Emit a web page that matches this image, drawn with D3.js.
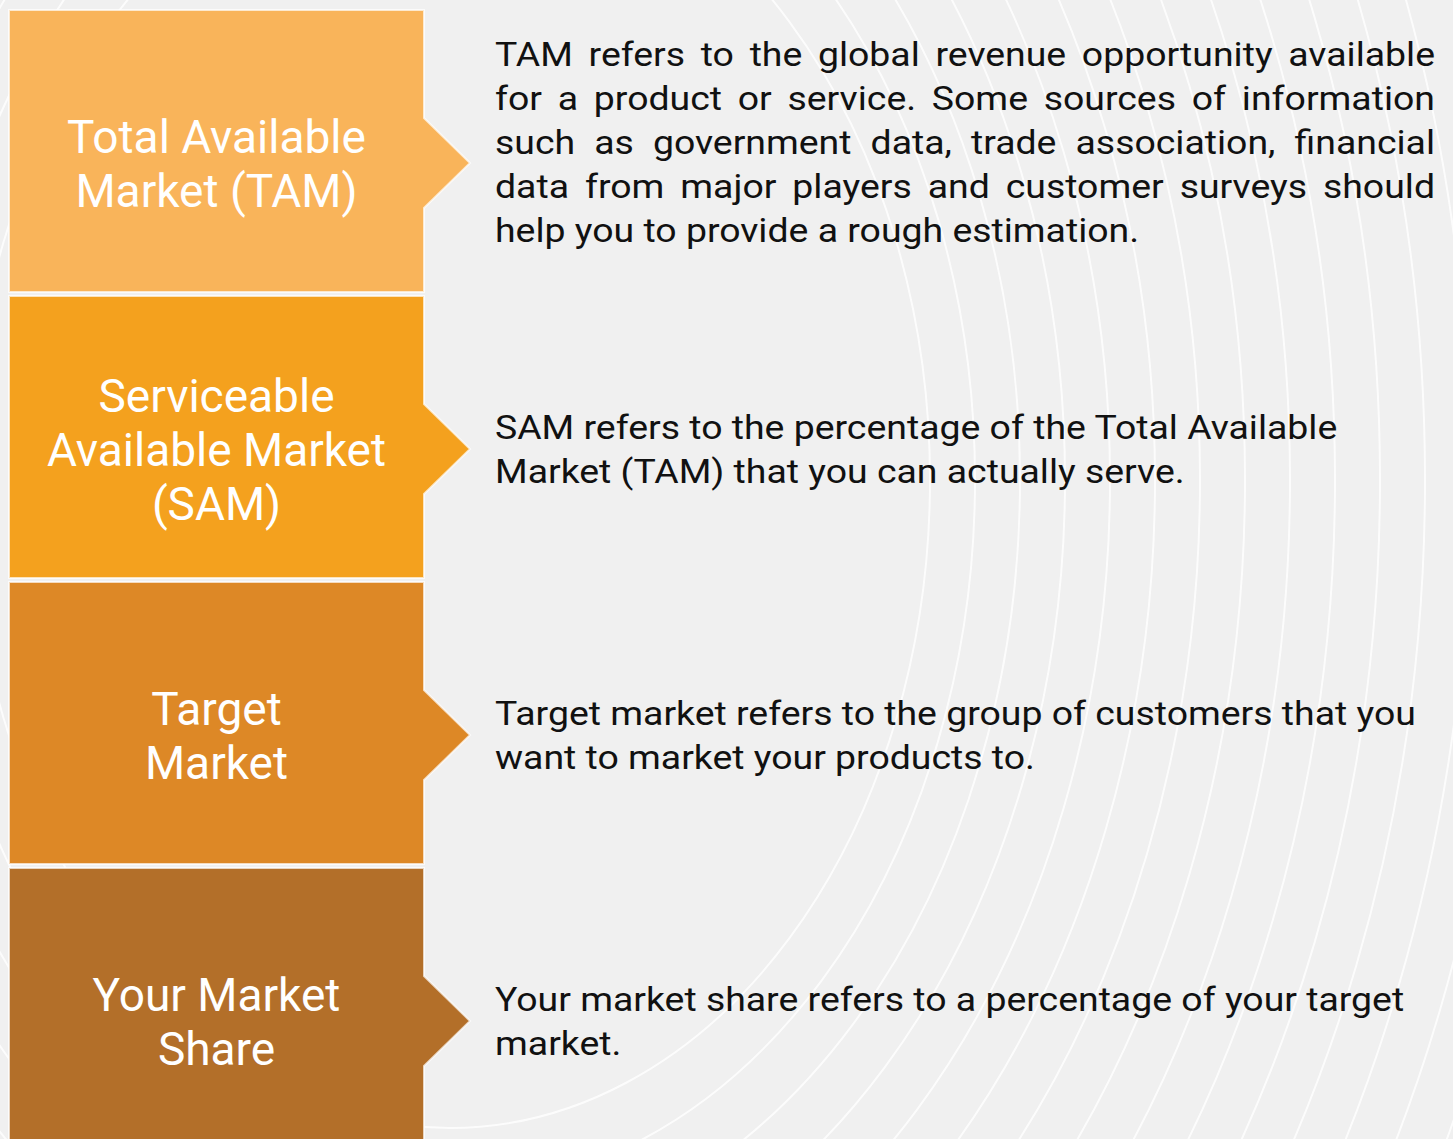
<!DOCTYPE html>
<html>
<head>
<meta charset="utf-8">
<script src="https://cdn.jsdelivr.net/npm/d3@7"></script>
<style>
  body { margin: 0; background: #f0f0f0; }
  text { font-family: Roboto, "Noto Sans", sans-serif; }
</style>
</head>
<body>
<div class="chart"></div>
<script>
// Set up SVG area
var svgWidth = 1453;
var svgHeight = 1139;

// Data
var stages = ["TAM", "SAM", "Target", "Share"];
var stageLabels = [
  ["Total Available", "Market (TAM)"],
  ["Serviceable", "Available Market", "(SAM)"],
  ["Target", "Market"],
  ["Your Market", "Share"]
];
var stageColors = ["#f9b45a", "#f4a11e", "#dd8826", "#b36f29"];
var descriptions = [
  ["TAM refers to the global revenue opportunity available",
   "for a product or service. Some sources of information",
   "such as government data, trade association, financial",
   "data from major players and customer surveys should",
   "help you to provide a rough estimation."],
  ["SAM refers to the percentage of the Total Available",
   "Market (TAM) that you can actually serve."],
  ["Target market refers to the group of customers that you",
   "want to market your products to."],
  ["Your market share refers to a percentage of your target",
   "market."]
];
var justified = [true, false, false, false];

var margin = {top: 10, left: 9};
var boxWidth = 415;
var tabW = 46, tabH = 45;
var textX = 495, textRight = 1435;
var stretch = 1.1; // description type is set a little wide

var svg = d3.select(".chart")
  .append("svg")
  .attr("width", svgWidth)
  .attr("height", svgHeight)
  .style("display", "block");

svg.append("rect")
  .attr("width", svgWidth)
  .attr("height", svgHeight)
  .attr("fill", "#f0f0f0");

// faint background swirl lines
var deco = svg.append("g")
  .attr("fill", "none")
  .attr("stroke", "#ffffff")
  .attr("stroke-width", 2)
  .attr("opacity", 0.8);
d3.range(480, 1160, 45).forEach(function(rx) {
  deco.append("ellipse")
    .attr("cx", 450)
    .attr("cy", 480)
    .attr("rx", rx)
    .attr("ry", rx * 1.35);
});

// y scale for the stage boxes
var y = d3.scaleBand()
  .domain(stages)
  .range([margin.top, margin.top + 1140])
  .paddingInner(4 / 286);

var x0 = margin.left, x1 = margin.left + boxWidth;

function boxPath(d) {
  var top = y(d), bottom = y(d) + y.bandwidth();
  var cy = top + y.bandwidth() / 2 + 12;
  return "M" + x0 + "," + top + "H" + x1 + "V" + (cy - tabH) +
    "L" + (x1 + tabW) + "," + cy + "L" + x1 + "," + (cy + tabH) +
    "V" + bottom + "H" + x0 + "Z";
}

svg.append("g").selectAll("path")
  .data(stages)
  .enter()
  .append("path")
  .attr("d", boxPath)
  .attr("fill", function(d, i) { return stageColors[i]; })
  .attr("stroke", "#ffffff")
  .attr("stroke-opacity", 0.7)
  .attr("stroke-width", 2);

function draw() {
  stages.forEach(function(s, i) {
    var cy = y(s) + y.bandwidth() / 2 + 12;

    // Stage label
    var lab = stageLabels[i];
    var lg = svg.append("text")
      .attr("text-anchor", "middle")
      .attr("fill", "#ffffff")
      .attr("font-size", 46);
    lab.forEach(function(line, j) {
      lg.append("tspan")
        .attr("x", x0 + boxWidth / 2)
        .attr("y", cy - (lab.length - 1) / 2 * 54 + j * 54 + 16.5)
        .text(line);
    });

    // Description
    var desc = descriptions[i];
    var lh = 44;
    var dcy = cy - (desc.length - 2) * 7;
    var firstBase = dcy - (desc.length - 1) / 2 * lh + 12;
    var g = svg.append("g")
      .attr("transform", "translate(" + textX + ",0) scale(" + stretch + ",1)")
      .attr("font-size", 34)
      .attr("fill", "#111111");
    var avail = (textRight - textX) / stretch;
    desc.forEach(function(line, j) {
      var by = firstBase + j * lh;
      if (justified[i] && j < desc.length - 1) {
        var words = line.split(" ");
        var widths = words.map(function(w) {
          var t = g.append("text").text(w);
          var wd = t.node().getComputedTextLength();
          t.remove();
          return wd;
        });
        var gap = (avail - d3.sum(widths)) / (words.length - 1);
        var cx = 0;
        words.forEach(function(w, k) {
          g.append("text").attr("x", cx).attr("y", by).text(w);
          cx += widths[k] + gap;
        });
      } else {
        g.append("text").attr("x", 0).attr("y", by).text(line);
      }
    });
  });
}

if (document.fonts && document.fonts.ready) {
  document.fonts.ready.then(draw);
} else {
  draw();
}
</script>
</body>
</html>
